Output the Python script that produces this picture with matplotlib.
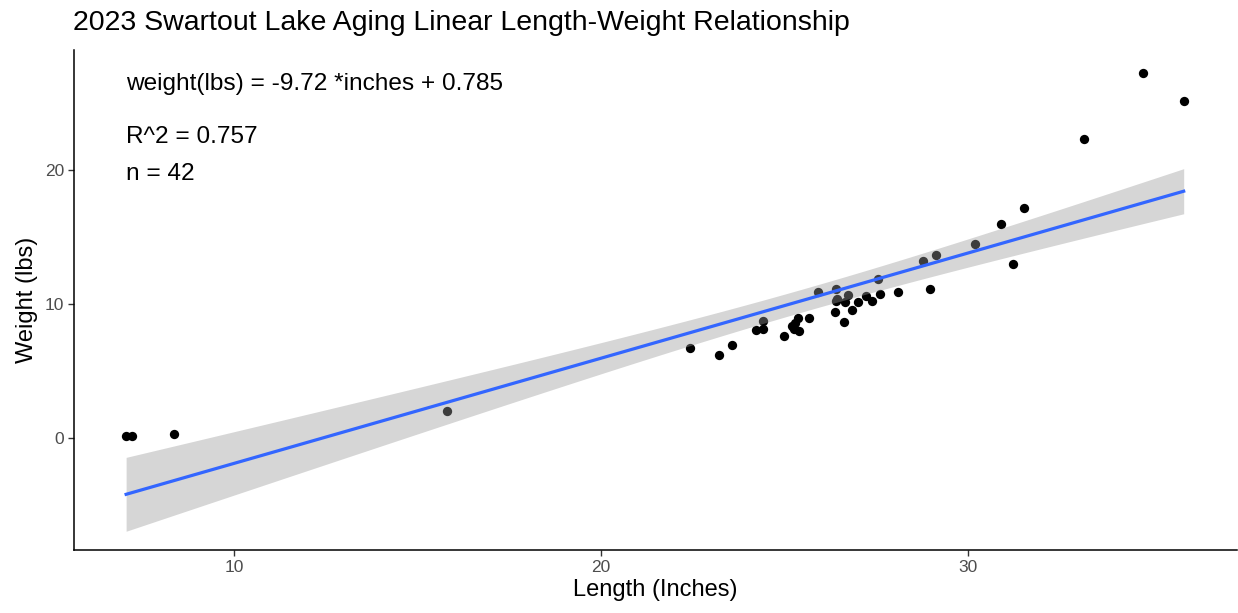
import numpy as np
import matplotlib
matplotlib.use("Agg")
import matplotlib.pyplot as plt

plt.rcParams["font.family"] = ["Liberation Sans", "DejaVu Sans"]

# length (inches) and weight (lbs)
length_in = [7.06, 7.21, 8.37, 15.81, 22.43, 23.22, 23.58, 24.41, 24.24, 24.43,
             25.00, 25.20, 25.28, 25.40, 25.38, 25.67, 25.91, 26.40, 26.41, 26.39,
             26.62, 26.67, 26.74, 26.85, 27.01, 27.24, 27.40, 27.56, 27.60, 28.11,
             28.78, 28.98, 29.14, 30.20, 30.91, 31.23, 31.54, 33.17, 34.78, 35.89,
             25.30, 26.45]
weight_lbs = [0.15, 0.15, 0.30, 1.97, 6.73, 6.19, 6.96, 8.77, 8.03, 8.13,
              7.61, 8.35, 8.15, 7.96, 8.98, 8.94, 10.90, 11.16, 10.21, 9.44,
              8.68, 10.17, 10.70, 9.57, 10.19, 10.62, 10.20, 11.85, 10.79, 10.92,
              13.22, 11.12, 13.67, 14.51, 15.98, 12.97, 17.16, 22.36, 27.33, 25.21,
              8.60, 10.40]

eq_text = "weight(lbs) = -9.72 *inches + 0.785"
r2_text = "R^2 = 0.757"
n_text = "n = 42"

x = np.array(length_in)
y = np.array(weight_lbs)
n = len(x)

# linear fit with 95% confidence band (like geom_smooth(method = "lm"))
slope, intercept = np.polyfit(x, y, 1)
xs = np.linspace(x.min(), x.max(), 200)
fit = intercept + slope * xs
resid = y - (intercept + slope * x)
s = np.sqrt(np.sum(resid ** 2) / (n - 2))
t_val = 2.021  # t(0.975, df=40)
se = s * np.sqrt(1 / n + (xs - x.mean()) ** 2 / np.sum((x - x.mean()) ** 2))

fig = plt.figure(figsize=(12.38, 6.13), dpi=100)
ax = fig.add_axes([0.0598, 0.103, 0.939, 0.815])

ax.scatter(x, y, s=45, color="black", linewidths=0, zorder=2)
ax.fill_between(xs, fit - t_val * se, fit + t_val * se, color="#999999", alpha=0.4,
                linewidth=0, zorder=3)
ax.plot(xs, fit, color="#3366FF", linewidth=2.3, zorder=4)

ax.text(7.06, 26.5, eq_text, fontsize=17.6, va="center", ha="left")
ax.text(7.06, 22.5, r2_text, fontsize=17.6, va="center", ha="left")
ax.text(7.06, 19.7, n_text, fontsize=17.6, va="center", ha="left")

ax.set_xlim(5.64, 37.33)
ax.set_ylim(-8.4, 29.0)
ax.set_xticks([10, 20, 30])
ax.set_yticks([0, 10, 20])

for side in ["top", "right"]:
    ax.spines[side].set_visible(False)
for side in ["left", "bottom"]:
    ax.spines[side].set_linewidth(1.1)
ax.tick_params(axis="both", length=4, width=1.0, color="#333333",
               labelsize=12.5, labelcolor="#4D4D4D", pad=3)

ax.set_xlabel("Length (Inches)", fontsize=17, labelpad=3)
ax.set_ylabel("Weight (lbs)", fontsize=17, labelpad=5)
fig.text(0.059, 0.962, "2023 Swartout Lake Aging Linear Length-Weight Relationship",
         fontsize=20.5, va="center", ha="left")

fig.savefig("out.png", dpi=100)
